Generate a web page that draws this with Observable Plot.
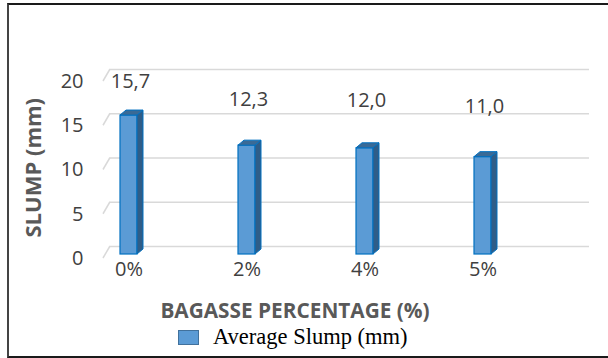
<!DOCTYPE html>
<html>
<head>
<meta charset="utf-8">
<script src="https://cdn.jsdelivr.net/npm/d3@7"></script>
<script src="https://cdn.jsdelivr.net/npm/@observablehq/plot@0.6"></script>
<style>
  html, body { margin: 0; padding: 0; background: #fff; }
  #wrap { position: relative; width: 608px; height: 358px; overflow: hidden; background: #fff; }
  #border { position: absolute; left: 7px; top: 3px; width: 660px; height: 351px;
            border: 2px solid #1a1a1a; border-left-color: #444; }
  #chart { position: absolute; left: 0; top: 0; }
  #legend { position: absolute; left: 178px; top: 325px; height: 24px; display: flex; align-items: center;
            font-family: "Liberation Serif", "Times New Roman", serif; font-size: 22.5px; color: #000; line-height: 24px; }
  #legend .sw { width: 19px; height: 13px; background: #5b9bd5; border: 1px solid #41719c; margin-right: 14px; margin-top: 1px; }
</style>
</head>
<body>
<div id="wrap">
  <div id="border"></div>
  <div id="chart"></div>
  <div id="legend"><span class="sw"></span><span id="legendText"></span></div>
</div>
<script>
// ---- data ----
const categories = ["0%", "2%", "4%", "5%"];
const slump = [15.7, 12.3, 12.0, 11.0];
const valueLabels = ["15,7", "12,3", "12,0", "11,0"];
const yTicks = [0, 5, 10, 15, 20];
const xTitle = "BAGASSE PERCENTAGE (%)";
const yTitle = "SLUMP (mm)";
const seriesName = "Average Slump (mm)";

const data = categories.map((c, i) => ({cat: c, value: slump[i], label: valueLabels[i]}));

// 3D side/top faces of the columns
function bars3d(index, scales, values, dims) {
  const sx = scales.x, sy = scales.y;
  const bw = sx.bandwidth ? sx.bandwidth() : 16.5;
  const d = 6, e = 5;
  const g = d3.create("svg:g");
  const y0 = sy(0);
  for (const r of data) {
    const x1 = sx(r.cat), x2 = x1 + bw, yt = sy(r.value);
    g.append("polygon")
      .attr("points", `${x2},${y0} ${x2 + d},${y0 - e} ${x2 + d},${yt - e} ${x2},${yt}`)
      .attr("fill", "#2f5d88").attr("stroke", "#0070c0").attr("stroke-width", 1);
    g.append("polygon")
      .attr("points", `${x1},${yt} ${x1 + d},${yt - e} ${x2 + d},${yt - e} ${x2},${yt}`)
      .attr("fill", "#3a6a96").attr("stroke", "#0070c0").attr("stroke-width", 1);
  }
  return g.node();
}

// slanted side-wall lines at the left of the grid
function sideWall(index, scales, values, dims) {
  const sy = scales.y;
  const xl = dims.marginLeft;
  const g = d3.create("svg:g");
  for (const t of yTicks) {
    g.append("line")
      .attr("x1", xl - 7).attr("y1", sy(t) + 4)
      .attr("x2", xl).attr("y2", sy(t) - 8)
      .attr("stroke", "#d9d9d9").attr("stroke-width", 1.5);
  }
  return g.node();
}

// data labels (perspective-compressed placement, as in the source chart)
function dataLabels(index, scales, values, dims) {
  const sx = scales.x, sy = scales.y;
  const bw = sx.bandwidth ? sx.bandwidth() : 16.5;
  const g = d3.create("svg:g")
    .attr("font-family", "Open Sans, sans-serif").attr("font-size", 20)
    .attr("fill", "#404040").attr("text-anchor", "middle");
  const y0 = sy(0);
  for (const r of data) {
    const y = y0 - (y0 - sy(r.value)) * 0.6 - 90;
    g.append("text")
      .attr("x", sx(r.cat) + bw / 2 + 2)
      .attr("y", y).attr("dy", "0.35em")
      .text(r.label);
  }
  return g.node();
}

const chart = Plot.plot({
  width: 608,
  height: 322,
  marginLeft: 110,
  marginRight: 19,
  marginTop: 90,
  marginBottom: 68,
  style: {fontFamily: "Open Sans, sans-serif", background: "transparent", overflow: "visible"},
  x: {type: "band", domain: categories, range: [69, 541], paddingInner: 0.86, paddingOuter: 0.43},
  y: {domain: [0, 20], range: [254, 77]},
  marks: [
    Plot.ruleY(yTicks, {stroke: "#d9d9d9", strokeWidth: 1.5, dy: -8}),
    sideWall,
    Plot.axisY(yTicks, {tickSize: 0, tickPadding: 27, fontSize: 20, fill: "#404040", dy: 4, label: null}),
    Plot.axisX({tickSize: 0, tickPadding: 7, fontSize: 20, fill: "#404040", label: null}),
    Plot.barY(data, {x: "cat", y: "value", fill: "#5b9bd5", stroke: "#0070c0", strokeWidth: 1.2}),
    bars3d,
    dataLabels,
    Plot.text([xTitle], {frameAnchor: "bottom", dx: -55, dy: 63, fontSize: 20.8, fontWeight: "bold", fill: "#595959"}),
    Plot.text([yTitle], {frameAnchor: "left", dx: -77, dy: 65, rotate: -90, fontSize: 22, fontWeight: "bold", fill: "#595959"})
  ]
});
document.getElementById("chart").appendChild(chart);
document.getElementById("legendText").textContent = seriesName;
</script>
</body>
</html>
